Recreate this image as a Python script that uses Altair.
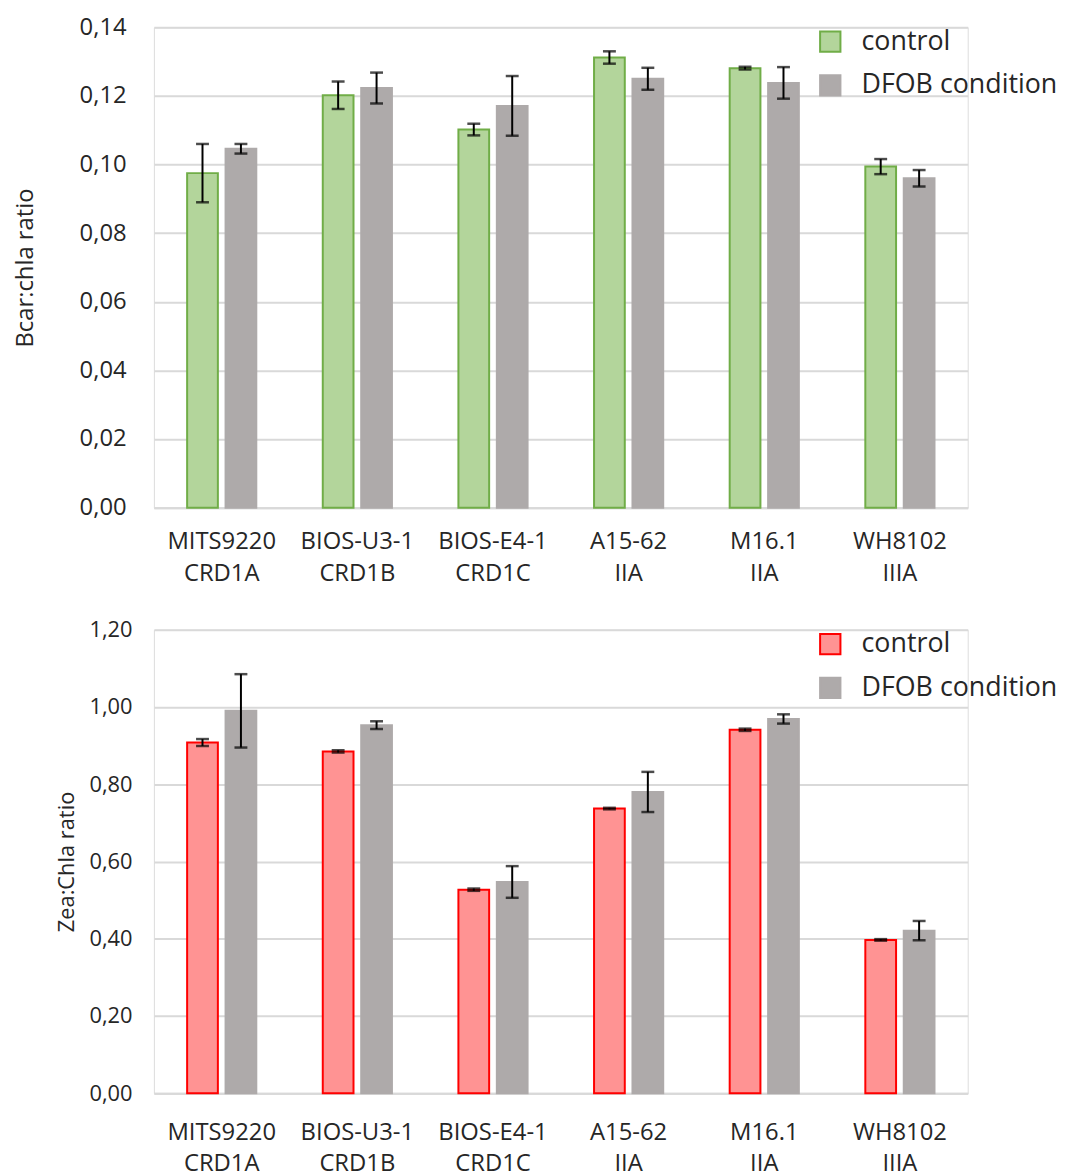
import altair as alt
import pandas as pd

strains = ["MITS9220", "BIOS-U3-1", "BIOS-E4-1", "A15-62", "M16.1", "WH8102"]
clades = ["CRD1A", "CRD1B", "CRD1C", "IIA", "IIA", "IIIA"]
conditions = ["control", "DFOB condition"]

bcar_control = [0.0975, 0.1202, 0.1102, 0.1312, 0.1281, 0.0994]
bcar_control_err = [0.0085, 0.0040, 0.0017, 0.0018, 0.0004, 0.0022]
bcar_dfob = [0.1046, 0.1223, 0.1171, 0.1250, 0.1238, 0.0960]
bcar_dfob_err = [0.0014, 0.0045, 0.0087, 0.0032, 0.0046, 0.0024]

zea_control = [0.908, 0.885, 0.527, 0.737, 0.941, 0.397]
zea_control_err = [0.009, 0.003, 0.003, 0.002, 0.003, 0.002]
zea_dfob = [0.990, 0.953, 0.547, 0.780, 0.969, 0.421]
zea_dfob_err = [0.095, 0.010, 0.041, 0.052, 0.012, 0.025]

bcar_ticks = [0, 0.02, 0.04, 0.06, 0.08, 0.10, 0.12, 0.14]
zea_ticks = [0, 0.2, 0.4, 0.6, 0.8, 1.0, 1.2]

FONT = "Open Sans"
TXT = "#262626"
GRID = "#d9d9d9"
GREY = "#aeaaaa"


def make_df(ctrl, ctrl_err, dfob, dfob_err):
    rows = []
    for i, s in enumerate(strains):
        lab = s + "|" + clades[i]
        rows.append(dict(strain=lab, cond=conditions[0], value=ctrl[i],
                         lo=ctrl[i] - ctrl_err[i], hi=ctrl[i] + ctrl_err[i]))
        rows.append(dict(strain=lab, cond=conditions[1], value=dfob[i],
                         lo=dfob[i] - dfob_err[i], hi=dfob[i] + dfob_err[i]))
    return pd.DataFrame(rows)


labels = [s + "|" + c for s, c in zip(strains, clades)]


def panel(df, fill_c, stroke_c, ticks, title, ymax, height, lab_size, lab_pad,
          title_size, title_pad, x_pad, x_lh):
    x = alt.X("strain:N", sort=labels, title=None,
              scale=alt.Scale(paddingInner=0.49, paddingOuter=0.245),
              axis=alt.Axis(labelExpr="split(datum.label, '|')", labelAngle=0,
                            labelFontSize=24, labelLineHeight=x_lh, labelPadding=x_pad,
                            labelColor=TXT, labelFont=FONT, domain=True, domainColor=GRID,
                            domainWidth=2, ticks=False))
    xo = alt.XOffset("cond:N", sort=conditions,
                     scale=alt.Scale(paddingInner=0.2, paddingOuter=0))
    yscale = alt.Scale(domain=[0, ymax], nice=False, zero=True)
    fill_scale = alt.Scale(domain=conditions, range=[fill_c, GREY])
    stroke_scale = alt.Scale(domain=conditions, range=[stroke_c, GREY])
    leg = alt.Legend(title=None, orient="none", legendX=668, legendY=1,
                     labelFontSize=27, labelFont=FONT, labelColor=TXT,
                     symbolType="square", symbolSize=420, symbolStrokeWidth=2,
                     rowPadding=15, labelOffset=18, labelLimit=400)
    bars = alt.Chart(df).mark_bar(strokeWidth=2).encode(
        x=x, xOffset=xo,
        y=alt.Y("value:Q", scale=yscale, title=title,
                axis=alt.Axis(values=ticks, labelExpr="replace(format(datum.value, '.2f'), '.', ',')",
                              labelFontSize=lab_size, labelFont=FONT, labelColor=TXT,
                              labelPadding=lab_pad, titleFontSize=title_size, titleFont=FONT,
                              titleColor=TXT, titleFontWeight="normal", titlePadding=title_pad,
                              domain=False, ticks=False, grid=True, gridColor=GRID, gridWidth=2)),
        fill=alt.Fill("cond:N", scale=fill_scale, legend=leg),
        stroke=alt.Stroke("cond:N", scale=stroke_scale, legend=leg),
    )
    rule = alt.Chart(df).mark_rule(color="black", strokeWidth=2).encode(
        x=alt.X("strain:N", sort=labels), xOffset=xo,
        y=alt.Y("lo:Q", scale=yscale), y2="hi:Q")
    cap_lo = alt.Chart(df).mark_tick(color="black", thickness=2.5, size=13).encode(
        x=alt.X("strain:N", sort=labels), xOffset=xo, y=alt.Y("lo:Q", scale=yscale))
    cap_hi = alt.Chart(df).mark_tick(color="black", thickness=2.5, size=13).encode(
        x=alt.X("strain:N", sort=labels), xOffset=xo, y=alt.Y("hi:Q", scale=yscale))
    return alt.layer(bars, rule, cap_lo, cap_hi).properties(width=820, height=height)


top = panel(make_df(bcar_control, bcar_control_err, bcar_dfob, bcar_dfob_err),
            "#b3d59b", "#70ad47", bcar_ticks, "Bcar:chla ratio", 0.14, 484,
            24, 28, 24, 42, 22, 32)
bottom = panel(make_df(zea_control, zea_control_err, zea_dfob, zea_dfob_err),
               "#ff9393", "#ff0000", zea_ticks, "Zea:Chla ratio", 1.2, 467,
               22, 22, 22, 11, 28, 31)

chart = alt.vconcat(top, bottom, spacing=32,
                    padding={"left": 5, "top": 2, "right": 5, "bottom": 2}).resolve_scale(
    fill="independent", stroke="independent", y="independent", x="independent"
).resolve_legend(fill="independent", stroke="independent").configure_view(
    stroke=None).configure(background="white")

chart.save("out.html", embed_options={"renderer": "svg", "actions": False})
